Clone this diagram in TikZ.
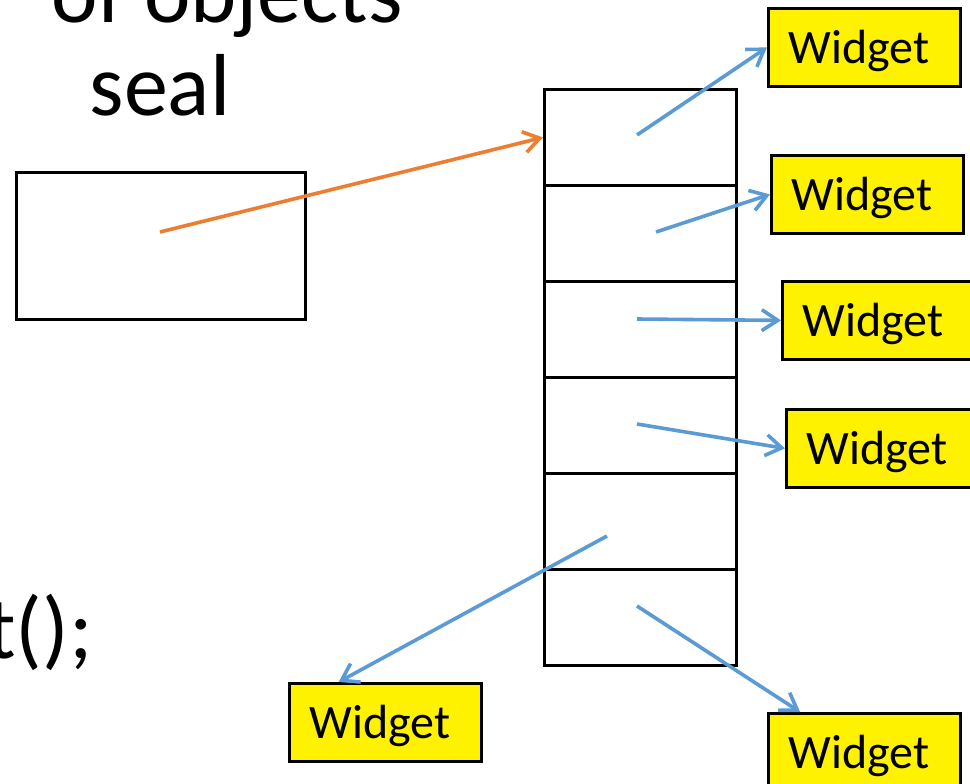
\documentclass[tikz,border=0pt]{standalone}
\usepackage{fontspec}
\setmainfont{Carlito}
\usetikzlibrary{arrows.meta,calc}
\definecolor{refblue}{RGB}{91,155,213}
\definecolor{reforange}{RGB}{237,125,49}
\tikzset{
  bigtext/.style={inner sep=0pt, font=\fontsize{88}{100}\selectfont},
  plainbox/.style={draw=black, line width=2.8pt, fill=white, inner sep=0pt},
  cellbox/.style={plainbox, minimum width=192pt, minimum height=96pt, anchor=north west},
  widget/.style={draw=black, line width=2.8pt, fill=yellow, anchor=north west,
    font=\fontsize{48}{56}\selectfont, text width=152pt, align=left,
    inner xsep=20pt, inner ysep=0pt, text height=55pt, text depth=23pt},
  ptr/.style={line width=3.6pt, -{Straight Barb[length=16pt,width=21pt,line width=3.6pt]}},
  bluearrow/.style={ptr, draw=refblue},
  orangearrow/.style={ptr, draw=reforange}
}
\begin{document}
\begin{tikzpicture}[x=1pt,y=-1pt]
\useasboundingbox (0,0) rectangle (970,784);
\clip (0,0) rectangle (970,784);

% title text and code fragment
\node[bigtext, anchor=base east] (title) at (403,23) {of objects};
\node[bigtext, anchor=base] (seal) at (160,115) {seal};
\node[bigtext, anchor=base east] (code) at (93,658) {t();};

% variable box
\node[plainbox, anchor=north west, minimum width=289pt, minimum height=147pt] (var) at (15,171) {};

% array of six references
\foreach \i in {1,...,6} {
  \node[cellbox] (cell\i) at (543,{88+96*(\i-1)}) {};
}

% widget objects
\node[widget] (w1) at (767,7) {Widget};
\node[widget] (w2) at (770,154) {Widget};
\node[widget] (w3) at (781,280) {Widget};
\node[widget] (w4) at (785,408) {Widget};
\node[widget] (w5) at (288,682) {Widget};
\node[widget] (w6) at (767,712) {Widget};

% start points of the references
\coordinate (v0) at (160,232);
\coordinate (s1) at (637,135);
\coordinate (s2) at (656,232);
\coordinate (s3) at (637,319);
\coordinate (s4) at (637,424);
\coordinate (s5) at (607,536);
\coordinate (s6) at (637,606);
\coordinate (e5) at ($(w5.north west)!0.26!(w5.north east)$);
\coordinate (e6) at ($(w6.north west)!0.17!(w6.north east)$);

% references
\draw[orangearrow] (v0) -- (cell1.west);
\draw[bluearrow] (s1) -- (w1.west);
\draw[bluearrow] (s2) -- (w2.west);
\draw[bluearrow] (s3) -- (w3.west);
\draw[bluearrow] (s4) -- (w4.west);
\draw[bluearrow] (s5) -- (e5);
\draw[bluearrow] (s6) -- (e6);
\end{tikzpicture}
\end{document}
